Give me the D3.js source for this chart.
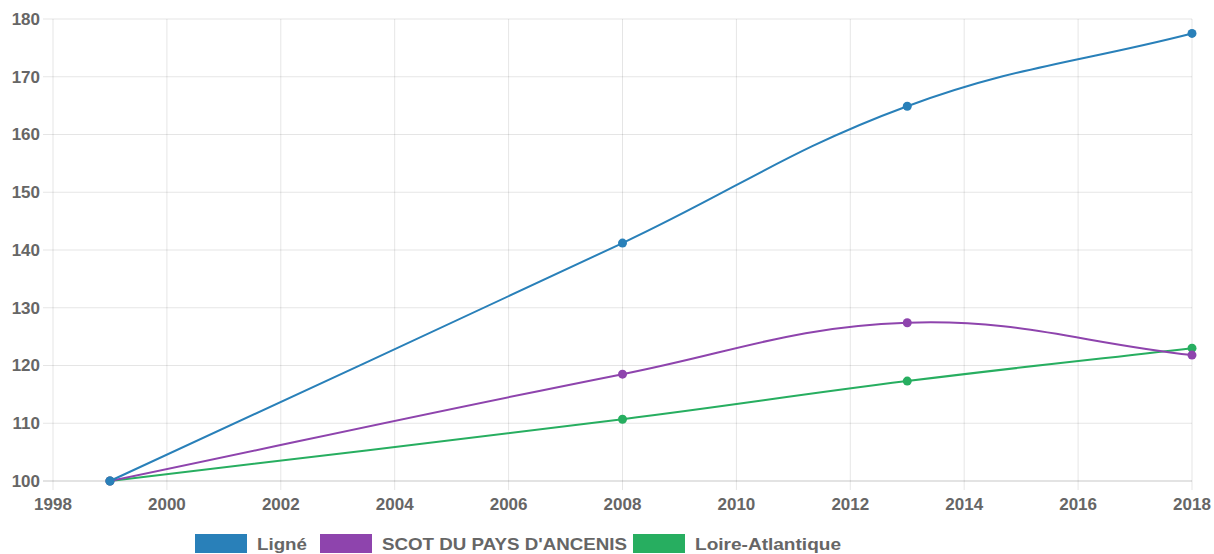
<!DOCTYPE html>
<html><head><meta charset="utf-8">
<script src="https://cdn.jsdelivr.net/npm/d3@7"></script>
<style>body{margin:0;background:#fff}svg{display:block}</style>
</head><body>
<script>
const years = [1999, 2008, 2013, 2018];
const ligne = [100, 141.2, 164.9, 177.5];
const scot = [100, 118.5, 127.4, 121.8];
const loire = [100, 110.7, 117.3, 123.0];
const seriesNames = ["Ligné", "SCOT DU PAYS D'ANCENIS", "Loire-Atlantique"];
const seriesColors = ["#2980b9", "#8e44ad", "#27ae60"];
const xTicks = [1998,2000,2002,2004,2006,2008,2010,2012,2014,2016,2018];
const yTicks = [100,110,120,130,140,150,160,170,180];

const W = 1214, H = 554;
const svg = d3.select("body").append("svg").attr("width", W).attr("height", H);
const x = d3.scaleLinear().domain([1998, 2018]).range([53, 1192]);
const y = d3.scaleLinear().domain([100, 180]).range([481, 19]);
const font = "'Liberation Sans', Arial, sans-serif";

// grid
const g = svg.append("g");
g.selectAll(".vg").data(xTicks).join("line")
  .attr("x1", d => x(d)).attr("x2", d => x(d)).attr("y1", 19).attr("y2", 490)
  .attr("stroke", "rgba(0,0,0,0.1)").attr("stroke-width", 1);
g.selectAll(".hg").data(yTicks).join("line")
  .attr("y1", d => y(d)).attr("y2", d => y(d)).attr("x1", 43).attr("x2", 1192)
  .attr("stroke", "rgba(0,0,0,0.1)").attr("stroke-width", 1);
g.append("line").attr("x1", 43).attr("x2", 1192).attr("y1", y(100)).attr("y2", y(100)).attr("stroke", "rgba(0,0,0,0.12)");

g.selectAll(".yl").data(yTicks).join("text")
  .attr("x", 40).attr("y", d => y(d)).attr("dy", "0.35em").attr("text-anchor", "end")
  .attr("font-family", font).attr("font-weight", "bold").attr("font-size", 17).attr("fill", "#666")
  .text(d => d);
g.selectAll(".xl").data(xTicks).join("text")
  .attr("x", d => x(d)).attr("y", 504).attr("dy", "0.35em").attr("text-anchor", "middle")
  .attr("font-family", font).attr("font-weight", "bold").attr("font-size", 17).attr("fill", "#666")
  .text(d => d);

// Chart.js-style spline
function splinePath(pts, t) {
  const cps = pts.map((p, i) => {
    const prev = pts[i - 1] || p, next = pts[i + 1] || p;
    const d01 = Math.hypot(p[0] - prev[0], p[1] - prev[1]);
    const d12 = Math.hypot(next[0] - p[0], next[1] - p[1]);
    let s01 = d01 / (d01 + d12), s12 = d12 / (d01 + d12);
    if (isNaN(s01)) s01 = 0; if (isNaN(s12)) s12 = 0;
    const fa = t * s01, fb = t * s12;
    return {
      prev: [p[0] - fa * (next[0] - prev[0]), p[1] - fa * (next[1] - prev[1])],
      next: [p[0] + fb * (next[0] - prev[0]), p[1] + fb * (next[1] - prev[1])]
    };
  });
  const path = d3.path();
  path.moveTo(pts[0][0], pts[0][1]);
  for (let i = 1; i < pts.length; i++) {
    const c1 = cps[i - 1].next, c2 = cps[i].prev;
    path.bezierCurveTo(c1[0], c1[1], c2[0], c2[1], pts[i][0], pts[i][1]);
  }
  return path.toString();
}

const allSeries = [ligne, scot, loire];
[2, 1, 0].forEach(k => {
  const pts = years.map((yr, i) => [x(yr), y(allSeries[k][i])]);
  svg.append("path").attr("d", splinePath(pts, 0.4)).attr("fill", "none")
    .attr("stroke", seriesColors[k]).attr("stroke-width", 2);
  svg.selectAll(null).data(pts).join("circle")
    .attr("cx", d => d[0]).attr("cy", d => d[1]).attr("r", 4.5).attr("fill", seriesColors[k]);
});

// legend
const legendX = [195, 320, 633];
const legendTextW = [50, 245, 146];
seriesNames.forEach((name, k) => {
  svg.append("rect").attr("x", legendX[k]).attr("y", 534).attr("width", 52).attr("height", 19).attr("fill", seriesColors[k]);
  svg.append("text").attr("x", legendX[k] + 62).attr("y", 544).attr("dy", "0.35em")
    .attr("font-family", font).attr("font-weight", "bold").attr("font-size", 17).attr("fill", "#666")
    .attr("textLength", legendTextW[k]).attr("lengthAdjust", "spacingAndGlyphs").text(name);
});
</script>
</body></html>
